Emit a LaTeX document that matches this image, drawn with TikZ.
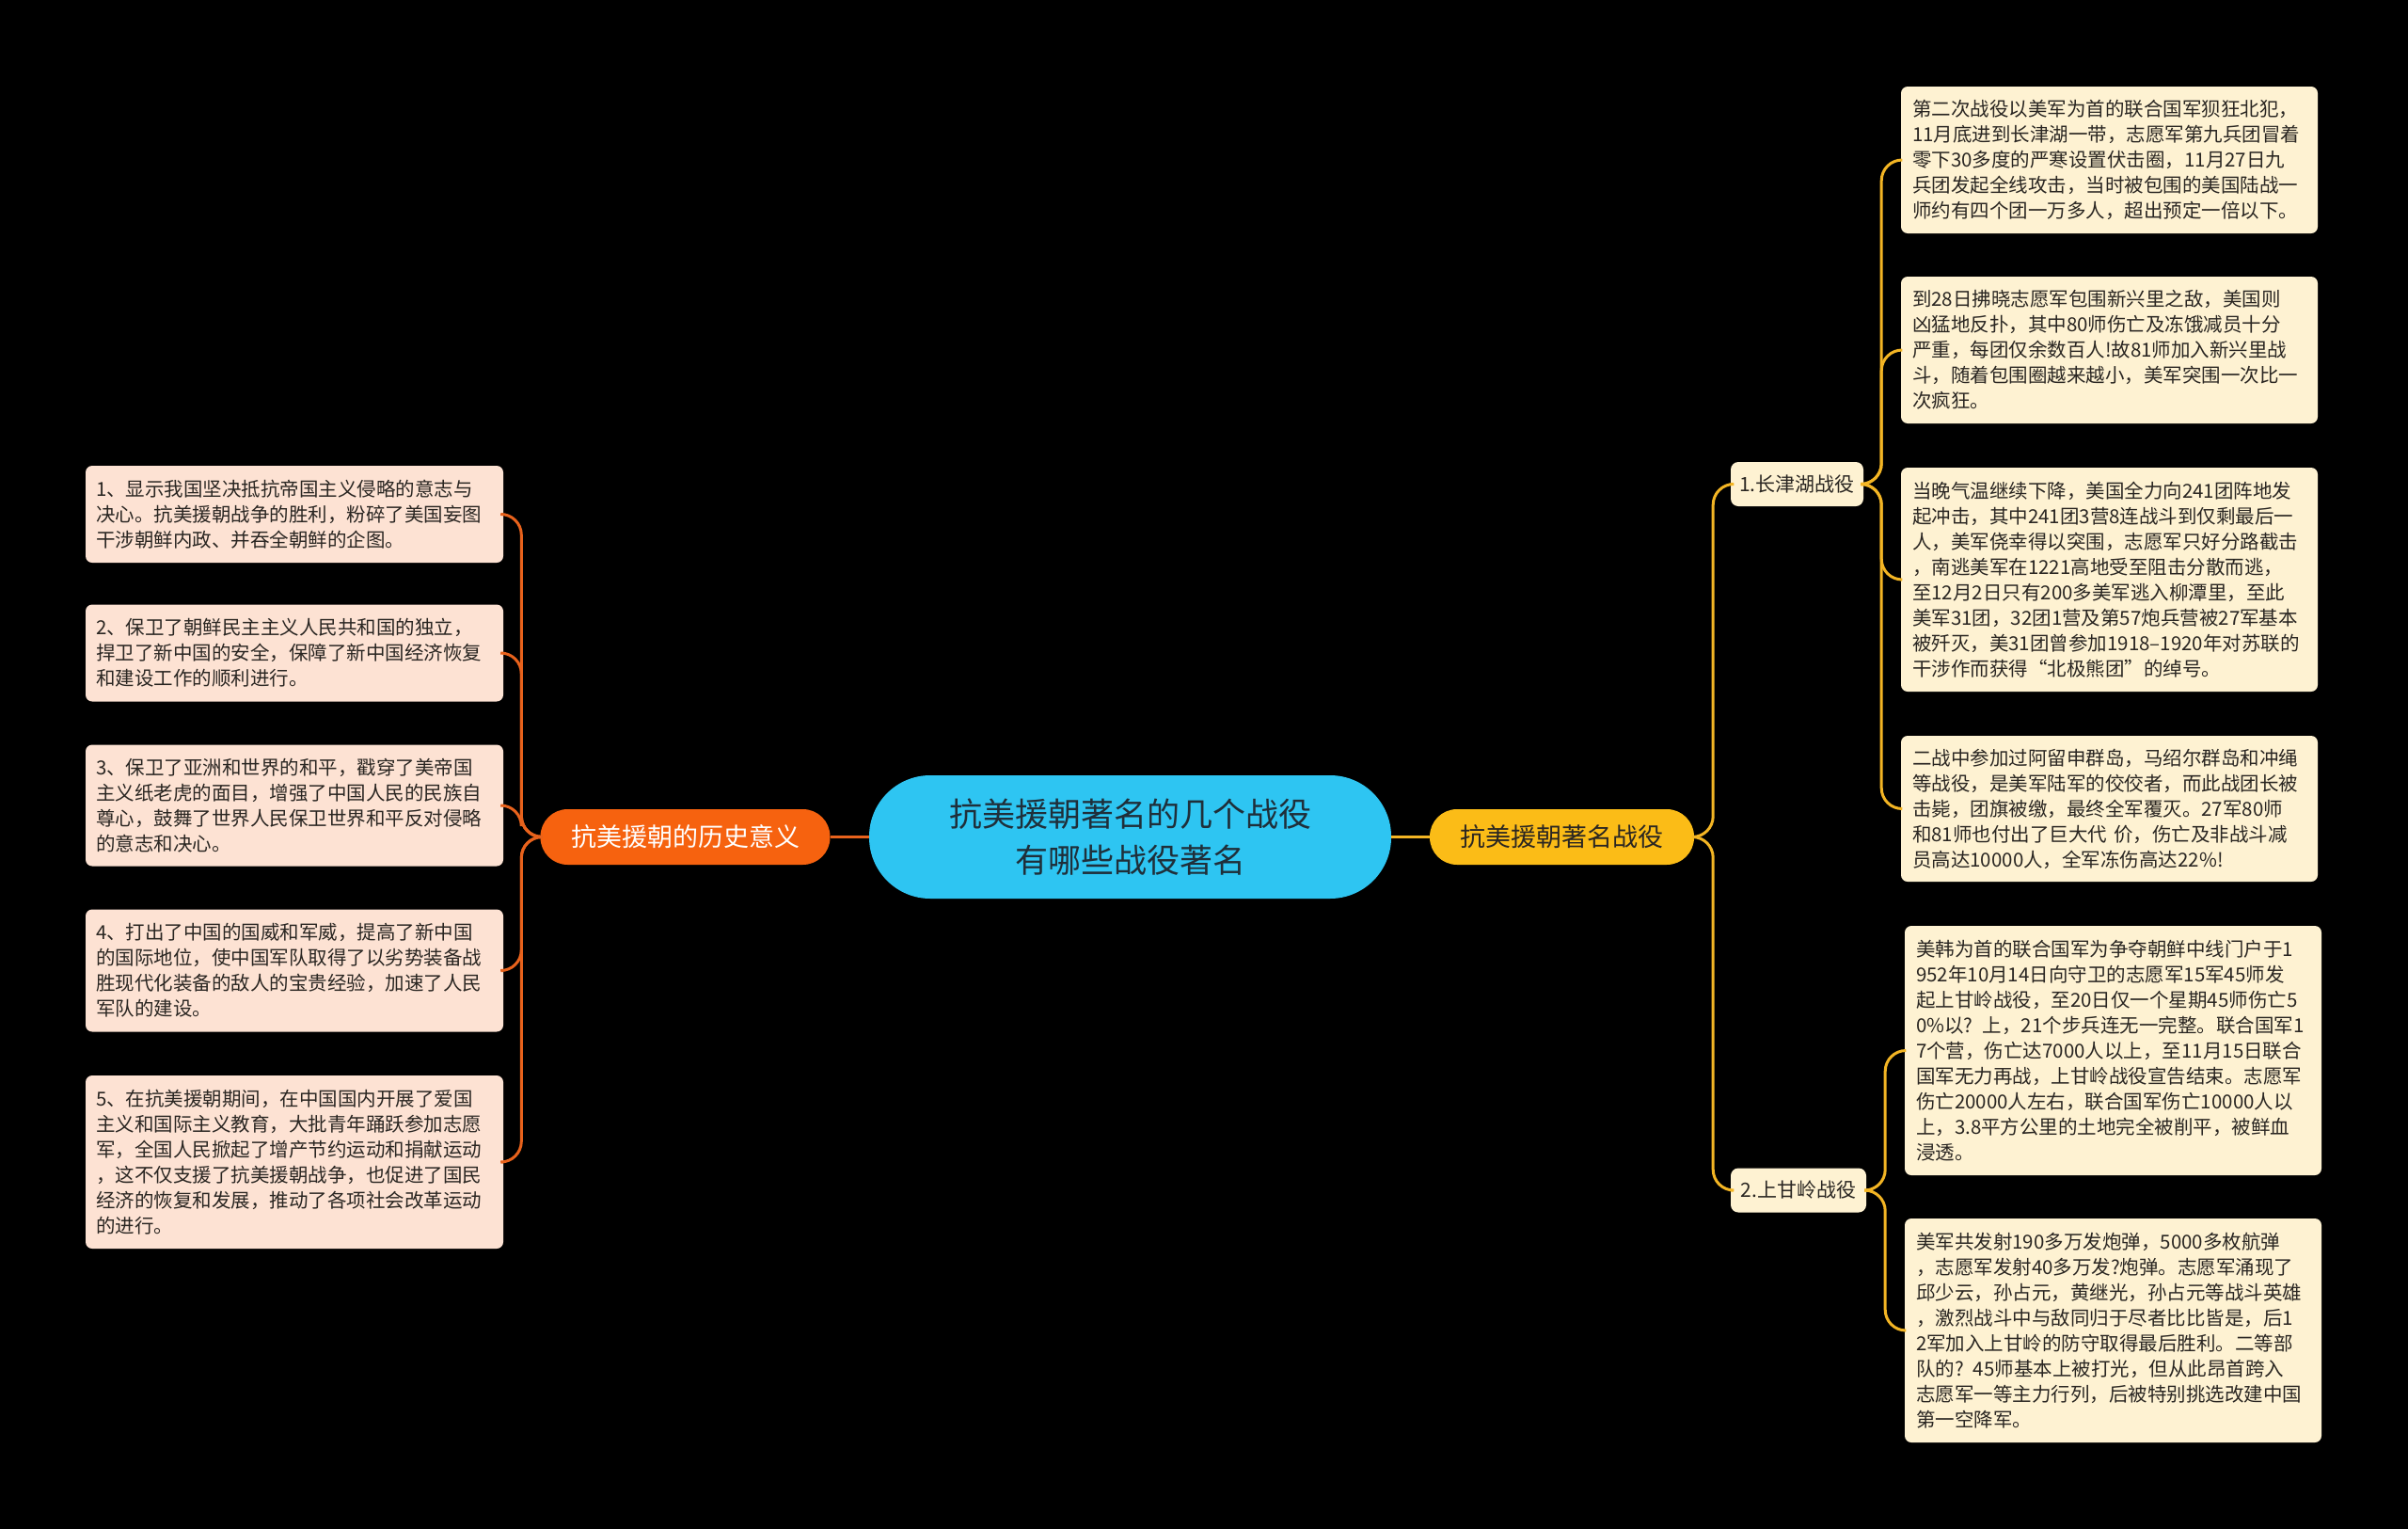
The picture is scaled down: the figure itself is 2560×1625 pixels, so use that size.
\documentclass[tikz,border=0pt]{standalone}
\usepackage{fontspec}
\setmainfont{Noto Sans CJK SC}
\begin{document}
\begin{tikzpicture}[x=1pt,y=-1pt,
  txtbox/.style={draw=none, rounded corners=7pt, inner xsep=0pt, inner ysep=0pt, align=left,
    text=textdark, font={\fontsize{20.5pt}{27pt}\selectfont}},
  lbox/.style={txtbox, fill=peach, text width=422pt, minimum width=444pt},
  rbox/.style={txtbox, fill=cream, text width=419pt, minimum width=443pt},
  midbox/.style={fill=cream, rounded corners=8pt, inner sep=0pt, text=textdark,
    minimum height=47pt, font={\fontsize{21pt}{24pt}\selectfont}},
  oline/.style={draw=lineorange, line width=3pt, rounded corners=22pt},
  yline/.style={draw=lineyellow, line width=3pt, rounded corners=22pt},
]
\definecolor{bgblack}{HTML}{000000}
\definecolor{centralblue}{HTML}{2EC5F2}
\definecolor{nodeorange}{HTML}{F6620F}
\definecolor{nodeyellow}{HTML}{FBBC17}
\definecolor{lineorange}{HTML}{E8621C}
\definecolor{lineyellow}{HTML}{F3B524}
\definecolor{peach}{HTML}{FDE2D3}
\definecolor{cream}{HTML}{FEF2D2}
\definecolor{textdark}{HTML}{2A2622}
\definecolor{centraltext}{HTML}{1F2F3A}

\fill[bgblack] (0,0) rectangle (2560,1625);
\useasboundingbox (0,0) rectangle (2560,1625);

% central and main branches
\node[fill=centralblue, rounded corners=65pt, minimum width=555pt, minimum height=131pt,
  inner sep=0pt, align=center, text=centraltext,
  font={\fontsize{35pt}{49pt}\selectfont}] (root) at (1201.5,889.5)
  {抗美援朝著名的几个战役\\有哪些战役著名};

\node[fill=nodeorange, rounded corners=29pt, minimum width=308pt, minimum height=59pt,
  inner sep=0pt, text=white, font={\fontsize{27pt}{30pt}\selectfont}] (hist) at (728.5,889.5)
  {抗美援朝的历史意义};

\node[fill=nodeyellow, rounded corners=29pt, minimum width=281pt, minimum height=59pt,
  inner sep=0pt, text=textdark, font={\fontsize{27pt}{30pt}\selectfont}] (famous) at (1660.5,889.5)
  {抗美援朝著名战役};

% left boxes
\node[lbox, minimum height=103pt] (L1) at (313,546.5)
  {1、显示我国坚决抵抗帝国主义侵略的意志与\\决心。抗美援朝战争的胜利，粉碎了美国妄图\\干涉朝鲜内政、并吞全朝鲜的企图。};
\node[lbox, minimum height=103pt] (L2) at (313,694)
  {2、保卫了朝鲜民主主义人民共和国的独立，\\捍卫了新中国的安全，保障了新中国经济恢复\\和建设工作的顺利进行。};
\node[lbox, minimum height=129pt] (L3) at (313,856)
  {3、保卫了亚洲和世界的和平，戳穿了美帝国\\主义纸老虎的面目，增强了中国人民的民族自\\尊心，鼓舞了世界人民保卫世界和平反对侵略\\的意志和决心。};
\node[lbox, minimum height=130pt] (L4) at (313,1031.5)
  {4、打出了中国的国威和军威，提高了新中国\\的国际地位，使中国军队取得了以劣势装备战\\胜现代化装备的敌人的宝贵经验，加速了人民\\军队的建设。};
\node[lbox, minimum height=184pt] (L5) at (313,1235)
  {5、在抗美援朝期间，在中国国内开展了爱国\\主义和国际主义教育，大批青年踊跃参加志愿\\军，全国人民掀起了增产节约运动和捐献运动\\，这不仅支援了抗美援朝战争，也促进了国民\\经济的恢复和发展，推动了各项社会改革运动\\的进行。};

% right mid nodes
\node[midbox, minimum width=141pt] (c1) at (1910.5,514.5) {1.长津湖战役};
\node[midbox, minimum width=144pt] (c2) at (1912,1265) {2.上甘岭战役};

% right boxes
\node[rbox, minimum height=156pt] (R1) at (2242.5,170)
  {第二次战役以美军为首的联合国军狈狂北犯，\\11月底进到长津湖一带，志愿军第九兵团冒着\\零下30多度的严寒设置伏击圈，11月27日九\\兵团发起全线攻击，当时被包围的美国陆战一\\师约有四个团一万多人，超出预定一倍以下。};
\node[rbox, minimum height=156pt] (R2) at (2242.5,372)
  {到28日拂晓志愿军包围新兴里之敌，美国则\\凶猛地反扑，其中80师伤亡及冻饿减员十分\\严重，每团仅余数百人!故81师加入新兴里战\\斗，随着包围圈越来越小，美军突围一次比一\\次疯狂。};
\node[rbox, minimum height=238pt] (R3) at (2242.5,616)
  {当晚气温继续下降，美国全力向241团阵地发\\起冲击，其中241团3营8连战斗到仅剩最后一\\人，美军侥幸得以突围，志愿军只好分路截击\\，南逃美军在1221高地受至阻击分散而逃，\\至12月2日只有200多美军逃入柳潭里，至此\\美军31团，32团1营及第57炮兵营被27军基本\\被歼灭，美31团曾参加1918–1920年对苏联的\\干涉作而获得“北极熊团”的绰号。};
\node[rbox, minimum height=155pt] (R4) at (2242.5,859.5)
  {二战中参加过阿留申群岛，马绍尔群岛和冲绳\\等战役，是美军陆军的佼佼者，而此战团长被\\击毙，团旗被缴，最终全军覆灭。27军80师\\和81师也付出了巨大代 价，伤亡及非战斗减\\员高达10000人，全军冻伤高达22\%!};
\node[rbox, minimum height=265pt] (R5) at (2246.5,1116.5)
  {美韩为首的联合国军为争夺朝鲜中线门户于1\\952年10月14日向守卫的志愿军15军45师发\\起上甘岭战役，至20日仅一个星期45师伤亡5\\0\%以? 上，21个步兵连无一完整。联合国军1\\7个营，伤亡达7000人以上，至11月15日联合\\国军无力再战，上甘岭战役宣告结束。志愿军\\伤亡20000人左右，联合国军伤亡10000人以\\上，3.8平方公里的土地完全被削平，被鲜血\\浸透。};
\node[rbox, minimum height=238pt] (R6) at (2246.5,1414)
  {美军共发射190多万发炮弹，5000多枚航弹\\，志愿军发射40多万发?炮弹。志愿军涌现了\\邱少云，孙占元，黄继光，孙占元等战斗英雄\\，激烈战斗中与敌同归于尽者比比皆是，后1\\2军加入上甘岭的防守取得最后胜利。二等部\\队的? 45师基本上被打光，但从此昂首跨入\\志愿军一等主力行列，后被特别挑选改建中国\\第一空降军。};

% connectors
\draw[oline] (root.west) -- (hist.east);
\foreach \b in {L1,L2,L3,L4,L5}
  \draw[oline] (hist.west) -- ++(-20,0) |- (\b.east);

\draw[yline] (root.east) -- (famous.west);
\foreach \b in {c1,c2}
  \draw[yline] (famous.west -| famous.east) -- ++(20,0) |- (\b.west);
\foreach \b in {R1,R2,R3,R4}
  \draw[yline] (c1.east) -- ++(19,0) |- (\b.west);
\foreach \b in {R5,R6}
  \draw[yline] (c2.east) -- ++(20,0) |- (\b.west);
\end{tikzpicture}
\end{document}
